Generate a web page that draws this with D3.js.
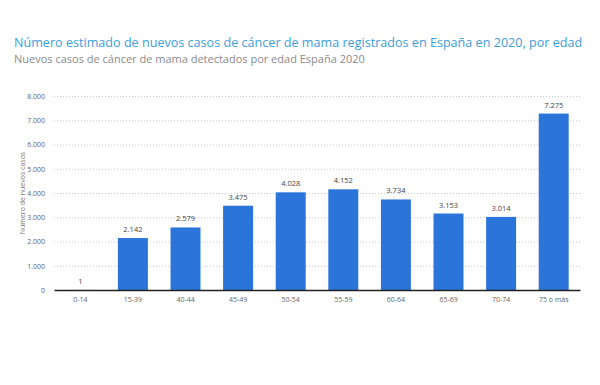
<!DOCTYPE html>
<html>
<head>
<meta charset="utf-8">
<script src="https://cdn.jsdelivr.net/npm/d3@7"></script>
<style>
  body { margin: 0; background: #fff; }
  svg { display: block; font-family: "Open Sans", sans-serif; }
</style>
</head>
<body>
<svg id="svg" width="600" height="385"></svg>
<script>
var categories = ['0-14', '15-39', '40-44', '45-49', '50-54', '55-59', '60-64', '65-69', '70-74', '75 o más'];
var cases = [1, 2142, 2579, 3475, 4028, 4152, 3734, 3153, 3014, 7275];
var yTicks = [0, 1000, 2000, 3000, 4000, 5000, 6000, 7000, 8000];

var title = 'Número estimado de nuevos casos de cáncer de mama registrados en España en 2020, por edad';
var subtitle = 'Nuevos casos de cáncer de mama detectados por edad España 2020';
var yLabel = 'Número de nuevos casos';

var fmt = d3.formatLocale({decimal: ',', thousands: '.', grouping: [3], currency: ['', '€']}).format(',d');

var svg = d3.select('#svg');
var plotL = 54, plotR = 580, plotT = 96, plotB = 290;

svg.append('text')
    .attr('x', 14).attr('y', 46.5)
    .attr('font-size', 12.6).attr('fill', '#3d9ddb')
    .text(title);
svg.append('text')
    .attr('x', 14).attr('y', 63)
    .attr('font-size', 11).attr('fill', '#8a8a8a')
    .text(subtitle);

var x = d3.scaleBand().domain(categories).range([plotL, plotR]).paddingInner(0.43).paddingOuter(0.215);
var y = d3.scaleLinear().domain([0, 8000]).range([plotB, plotT]);

// grid
svg.append('g')
    .selectAll('line').data(yTicks.filter(d => d > 0)).enter().append('line')
    .attr('x1', plotL).attr('x2', plotR)
    .attr('y1', d => y(d) + 0.5).attr('y2', d => y(d) + 0.5)
    .attr('stroke', '#c8c8c8').attr('stroke-width', 1)
    .attr('stroke-dasharray', '1,2');

// y axis
var yAxis = svg.append('g')
    .attr('transform', 'translate(' + (plotL - 6) + ',0)')
    .call(d3.axisLeft(y).tickValues(yTicks).tickFormat(fmt).tickSize(0));
yAxis.select('.domain').remove();
yAxis.selectAll('text').attr('font-size', 7).attr('fill', '#666').attr('font-family', '"Open Sans", sans-serif');

svg.append('text')
    .attr('transform', 'translate(25,' + ((plotT + plotB) / 2) + ') rotate(-90)')
    .attr('text-anchor', 'middle')
    .attr('font-size', 7).attr('fill', '#777')
    .text(yLabel);

// bars
svg.append('g')
    .selectAll('rect').data(cases).enter().append('rect')
    .attr('x', (d, i) => x(categories[i]))
    .attr('width', x.bandwidth())
    .attr('y', d => y(d))
    .attr('height', d => plotB - y(d))
    .attr('fill', '#2a74da');

svg.append('g')
    .selectAll('text').data(cases).enter().append('text')
    .attr('x', (d, i) => x(categories[i]) + x.bandwidth() / 2)
    .attr('y', d => y(d) - 6)
    .attr('text-anchor', 'middle')
    .attr('font-size', 7.5).attr('fill', '#444')
    .text(d => fmt(d));

// x axis
var xAxis = svg.append('g')
    .attr('transform', 'translate(0,' + plotB + ')')
    .call(d3.axisBottom(x).tickSize(0).tickPadding(7));
xAxis.select('.domain').attr('stroke', '#222').attr('stroke-width', 1.5);
xAxis.selectAll('text').attr('font-size', 7).attr('fill', '#666').attr('font-family', '"Open Sans", sans-serif');
</script>
</body>
</html>
